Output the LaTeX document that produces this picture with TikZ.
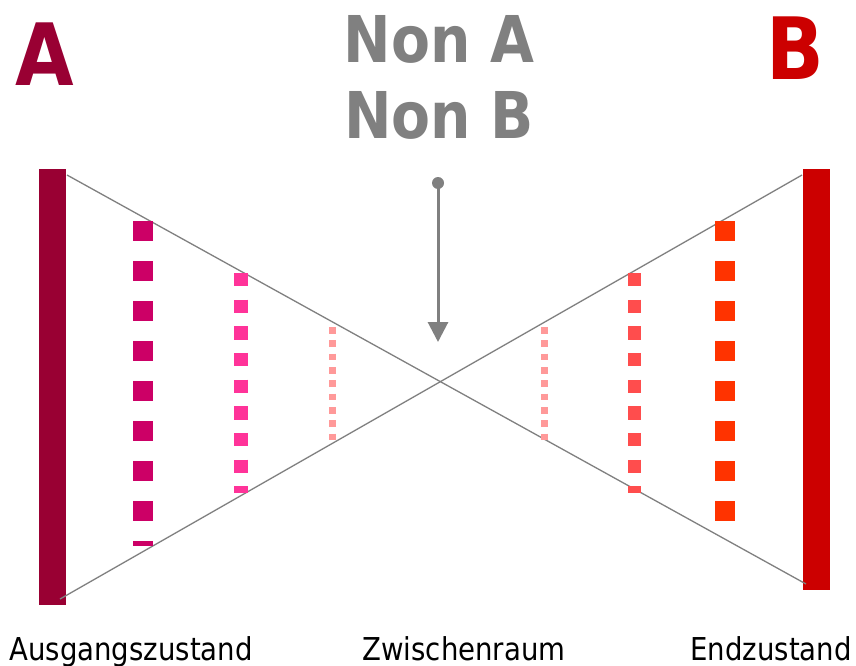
\documentclass[tikz,border=0pt]{standalone}
\usepackage{fontspec}
\usetikzlibrary{arrows.meta}
\newfontfamily\bigfont[FakeStretch=0.88]{DejaVu Sans Bold}
\newfontfamily\labfont[FakeStretch=0.875]{DejaVu Sans}
\definecolor{cA}{HTML}{990033}
\definecolor{cB}{HTML}{CC0000}
\definecolor{cgray}{HTML}{808080}
\definecolor{cdash1}{HTML}{CC0066}
\definecolor{cdash2}{HTML}{FF3399}
\definecolor{cdash3}{HTML}{FF9999}
\definecolor{cdash5}{HTML}{FF4D4D}
\definecolor{cdash6}{HTML}{FF3300}
\begin{document}
\begin{tikzpicture}[x=1pt,y=-1pt,
  bigletter/.style={font=\bigfont\fontsize{86}{86}\selectfont, anchor=base, inner sep=0pt},
  nontext/.style={font=\bigfont\fontsize{64.5}{64.5}\selectfont, text=cgray, anchor=base, inner sep=0pt},
  labtext/.style={font=\labfont\fontsize{31.5}{31.5}\selectfont, text=black, anchor=base, inner sep=0pt},
  thinline/.style={draw=cgray, line width=1.3pt},
  dashcol/.style={line cap=butt}
]
\fill[white] (0,0) rectangle (856,666);
\useasboundingbox (0,0) rectangle (856,666);

% letters
\node[bigletter, text=cA] (A) at (44.5,86) {A};
\node[bigletter, text=cB] (B) at (795,80) {B};
\node[nontext] (nonA) at (439,63) {Non A};
\node[nontext] (nonB) at (439,139) {Non B};

% bars
\fill[cA] (39,169) rectangle (66,605);
\fill[cB] (803,169) rectangle (830,590);

% crossing lines
\coordinate (lt) at (67,175);
\coordinate (lb) at (60,599);
\coordinate (rt) at (802,175);
\coordinate (rb) at (806,584);
\draw[thinline] (lt) -- (rb);
\draw[thinline] (lb) -- (rt);

% dashed columns
\draw[dashcol, draw=cdash1, line width=20pt, dash pattern=on 20pt off 20pt] (143,221) -- (143,546);
\draw[dashcol, draw=cdash2, line width=14pt, dash pattern=on 13.33pt off 13.33pt] (241,273) -- (241,493);
\draw[dashcol, draw=cdash3, line width=7pt, dash pattern=on 6.67pt off 6.67pt] (332.5,327) -- (332.5,440);
\draw[dashcol, draw=cdash3, line width=7pt, dash pattern=on 6.67pt off 6.67pt] (544,327) -- (544,440);
\draw[dashcol, draw=cdash5, line width=13pt, dash pattern=on 13.33pt off 13.33pt] (634.5,273) -- (634.5,493);
\draw[dashcol, draw=cdash6, line width=20pt, dash pattern=on 20pt off 20pt] (725,221) -- (725,521);

% arrow
\coordinate (arrstart) at (438,183);
\coordinate (arrtip) at (438,342);
\fill[cgray] (arrstart) circle (6pt);
\draw[cgray, line width=3pt, -{Triangle[length=20pt,width=20pt]}] (arrstart) -- (arrtip);

% labels
\node[labtext] (l1) at (131,660) {Ausgangszustand};
\node[labtext] (l2) at (464,660) {Zwischenraum};
\node[labtext] (l3) at (771,660) {Endzustand};
\end{tikzpicture}
\end{document}
